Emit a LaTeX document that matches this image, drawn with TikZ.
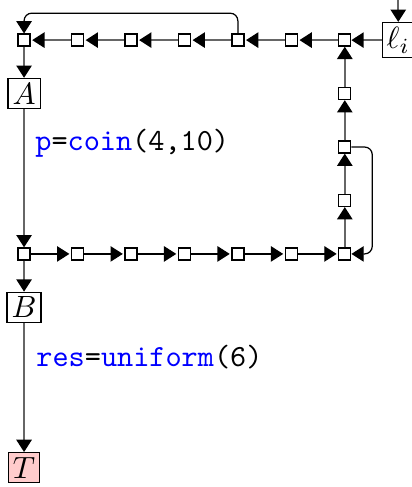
\documentclass[tikz,border=0pt]{standalone}
\usetikzlibrary{arrows.meta}
\newcommand{\kw}[1]{\textcolor{blue}{#1}}
\begin{document}
\begin{tikzpicture}[x=0.611cm,y=0.611cm,>={Triangle[length=4pt,width=5pt,color=black]},
  sq/.style={draw,fill=white,inner sep=0pt,minimum size=3.9pt},
  lbox/.style={draw,inner sep=1.5pt},
  ed/.style={->,black!60,line width=0.5pt}]
  \useasboundingbox (-0.45,-8.36) rectangle (7.25,0.75);
  % rows and column of small squares
  \foreach \i in {0,...,6} {
    \node[sq] (t\i) at (\i,0) {};
    \node[sq] (b\i) at (\i,-4) {};
  }
  \foreach \j in {1,2,3} \node[sq] (r\j) at (6,-\j) {};
  \node[lbox] (l) at (7,0) {$\ell_i$};
  \node[lbox] (A) at (0,-1) {$A$};
  \node[lbox] (B) at (0,-5) {$B$};
  \node[lbox,fill=red!20] (T) at (0,-8) {$T$};
  \coordinate (in) at (7,0.75);
  % edges
  \draw[ed] (in) -- (l);
  \draw[ed] (l) -- (t6);
  \foreach \i/\k in {6/5,5/4,4/3,3/2,2/1,1/0} \draw[ed,shorten >=0.5pt] (t\i) -- (t\k);
  \foreach \i/\k in {0/1,1/2,2/3,3/4,4/5,5/6} \draw[->,line width=0.4pt,shorten >=0.5pt] (b\i) -- (b\k);
  \draw[ed] (b6) -- (r3);
  \draw[ed] (r3) -- (r2);
  \draw[ed] (r2) -- (r1);
  \draw[ed] (r1) -- (t6);
  \draw[ed] (t0) -- (A);
  \draw[ed] (A) -- (b0);
  \draw[ed] (b0) -- (B);
  \draw[ed] (B) -- (T);
  \draw[->,line width=0.4pt,rounded corners=2.5pt] (t4.north) -- ++(0,0.38) -| (t0.north);
  \draw[->,line width=0.4pt,rounded corners=2.5pt] (r2.east) -- ++(0.39,0) |- (b6.east);
  % labels
  \node[anchor=west,inner sep=0pt] (lp) at (0.2,-1.93) {\texttt{\kw{p}=\kw{coin}(4,10)}};
  \node[anchor=west,inner sep=0pt] (lr) at (0.22,-5.93) {\texttt{\kw{res}=\kw{uniform}(6)}};
\end{tikzpicture}
\end{document}
